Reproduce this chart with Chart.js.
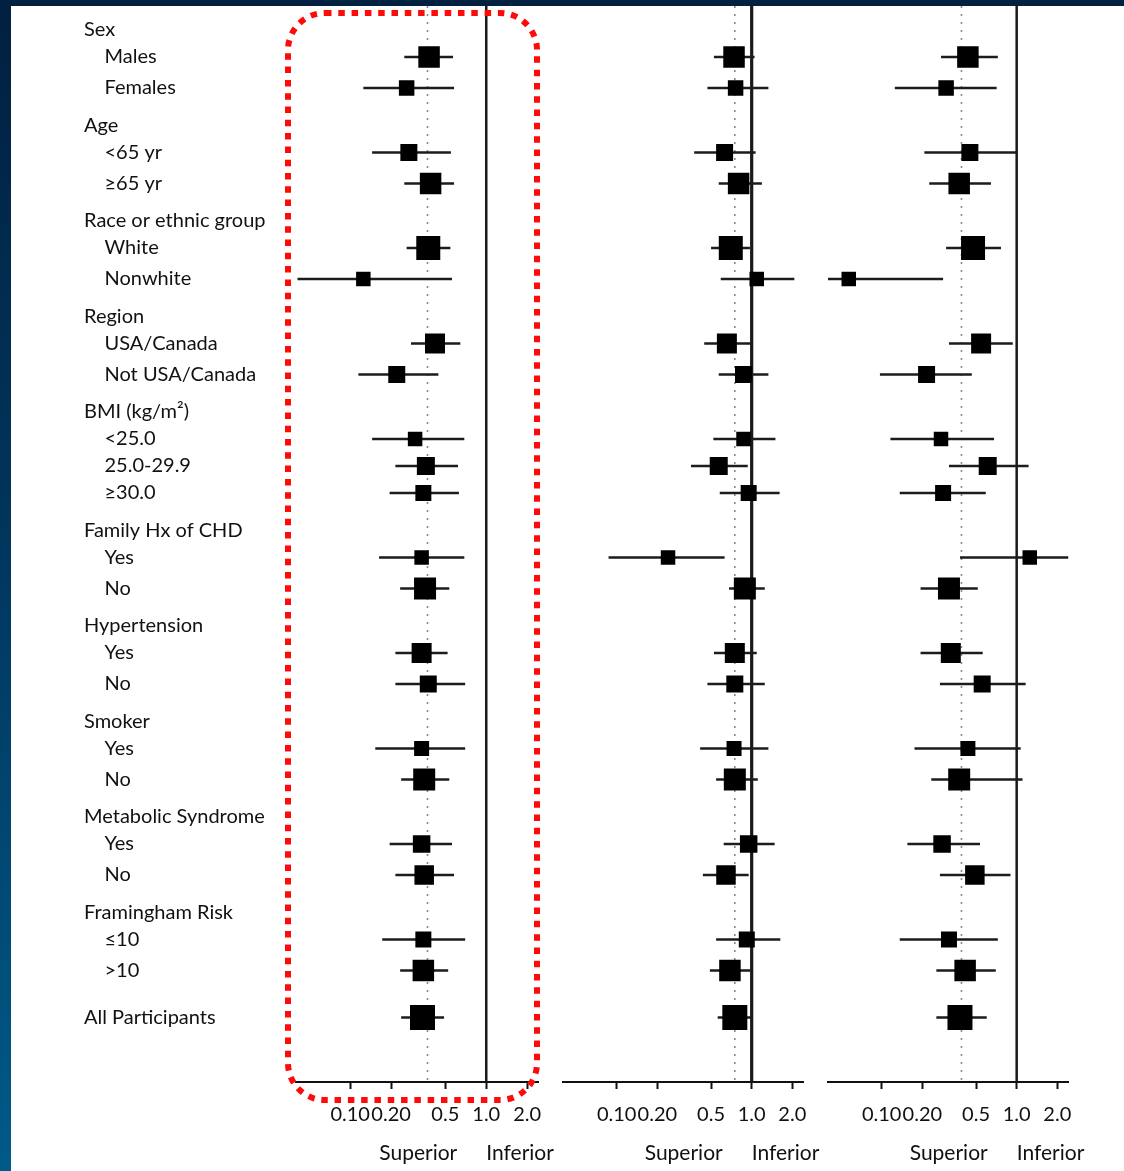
<!DOCTYPE html>
<html>
<head>
<meta charset="utf-8">
<script src="https://cdn.jsdelivr.net/npm/chart.js@4/dist/chart.umd.min.js"></script>
<style>
  html, body { margin: 0; padding: 0; }
  body {
    width: 1124px; height: 1171px; overflow: hidden; position: relative;
    background: linear-gradient(to bottom, #02203f 0%, #01355c 45%, #005a88 100%);
  }
  #sheet { position: absolute; left: 11px; top: 6px; right: 0; bottom: 0; background: #fff; }
  canvas { position: absolute; top: 6px; }
  #c1 { left: 11px; }
  #c2 { left: 548px; }
  #c3 { left: 813px; }
</style>
</head>
<body>
<div id="sheet"></div>
<canvas id="c1" width="545" height="1165"></canvas>
<canvas id="c2" width="300" height="1165"></canvas>
<canvas id="c3" width="311" height="1165"></canvas>
<script>
Chart.defaults.font.family = 'Lato, "Open Sans", sans-serif';
Chart.defaults.color = '#111';

// row labels
const groupNames = ['Sex', 'Age', 'Race or ethnic group', 'Region', 'BMI (kg/m\u00B2)',
  'Family Hx of CHD', 'Hypertension', 'Smoker', 'Metabolic Syndrome', 'Framingham Risk'];
const subgroupNames = [
  ['Males', 'Females'],
  ['<65 yr', '\u226565 yr'],
  ['White', 'Nonwhite'],
  ['USA/Canada', 'Not USA/Canada'],
  ['<25.0', '25.0-29.9', '\u226530.0'],
  ['Yes', 'No'],
  ['Yes', 'No'],
  ['Yes', 'No'],
  ['Yes', 'No'],
  ['\u226410', '>10']
];
const overallName = 'All Participants';

// hazard ratios and 95% CI, one value per subgroup row (same order), last = all participants
const hr1 = [0.38, 0.26, 0.27, 0.39, 0.375, 0.125, 0.42, 0.22, 0.30, 0.36, 0.345, 0.335, 0.355, 0.335, 0.375, 0.335, 0.35, 0.335, 0.35, 0.345, 0.345, 0.34];
const lo1 = [0.25, 0.125, 0.145, 0.25, 0.26, 0.041, 0.28, 0.115, 0.145, 0.215, 0.195, 0.163, 0.233, 0.215, 0.215, 0.153, 0.237, 0.195, 0.215, 0.172, 0.233, 0.237];
const hi1 = [0.57, 0.58, 0.55, 0.58, 0.545, 0.56, 0.645, 0.445, 0.69, 0.62, 0.63, 0.69, 0.535, 0.52, 0.70, 0.70, 0.535, 0.56, 0.58, 0.70, 0.525, 0.49];

const hr2 = [0.74, 0.76, 0.63, 0.80, 0.70, 1.09, 0.655, 0.87, 0.87, 0.57, 0.95, 0.24, 0.89, 0.75, 0.75, 0.74, 0.75, 0.95, 0.645, 0.92, 0.69, 0.75];
const lo2 = [0.525, 0.47, 0.375, 0.57, 0.50, 0.59, 0.445, 0.57, 0.52, 0.355, 0.58, 0.087, 0.68, 0.525, 0.47, 0.415, 0.545, 0.62, 0.435, 0.545, 0.49, 0.56];
const hi2 = [1.05, 1.33, 1.07, 1.19, 0.97, 2.07, 1.0, 1.33, 1.50, 0.935, 1.61, 0.63, 1.25, 1.09, 1.25, 1.33, 1.11, 1.48, 0.95, 1.63, 0.98, 1.0];

const hr3 = [0.435, 0.30, 0.45, 0.375, 0.475, 0.057, 0.545, 0.215, 0.275, 0.61, 0.285, 1.25, 0.315, 0.325, 0.555, 0.435, 0.375, 0.28, 0.49, 0.315, 0.415, 0.38];
const lo3 = [0.275, 0.125, 0.207, 0.225, 0.30, 0.040, 0.315, 0.097, 0.116, 0.315, 0.136, 0.38, 0.194, 0.194, 0.27, 0.175, 0.233, 0.155, 0.27, 0.136, 0.254, 0.254];
const hi3 = [0.725, 0.71, 1.0, 0.645, 0.765, 0.285, 0.935, 0.465, 0.68, 1.225, 0.59, 2.41, 0.515, 0.56, 1.165, 1.07, 1.105, 0.535, 0.90, 0.725, 0.70, 0.60];

// relative subgroup weight (box scale), all participants = 1
const weights = [0.86, 0.62, 0.68, 0.86, 0.96, 0.58, 0.80, 0.68, 0.58, 0.72, 0.64, 0.58, 0.88, 0.80, 0.68, 0.60, 0.88, 0.70, 0.78, 0.64, 0.86, 1.0];

// dotted reference line per panel
const refLines = [0.37, 0.75, 0.39];

const xTicks = [0.1, 0.2, 0.5, 1, 2];
const xTickLabels = ['0.10', '0.20', '0.5', '1.0', '2.0'];
const sideLabels = ['Superior', 'Inferior'];

// vertical row layout (axis units are px-like)
const HEAD_GAP = 27, ROW_GAP = 31, ROW_GAP3 = 27, GROUP_GAP = 37.5, OVERALL_GAP = 47;
const Y_MIN = -24, Y_MAX = 1052;

const rows = [];
let pos = 0, k = 0;
groupNames.forEach((g, gi) => {
  if (gi > 0) pos += GROUP_GAP;
  rows.push({ label: g, pos: pos, head: true });
  const subs = subgroupNames[gi];
  subs.forEach((s, si) => {
    pos += si === 0 ? HEAD_GAP : (subs.length > 2 ? ROW_GAP3 : ROW_GAP);
    rows.push({ label: s, pos: pos, head: false, idx: k++ });
  });
});
pos += OVERALL_GAP;
rows.push({ label: overallName, pos: pos, head: true, idx: k++ });
const dataRows = rows.filter(r => r.idx !== undefined);

const directionLabels = {
  id: 'directionLabels',
  afterDraw(chart) {
    const ctx = chart.ctx;
    const x1 = chart.scales.x.getPixelForValue(1);
    const y = chart.chartArea.bottom + 71;
    ctx.save();
    ctx.font = '21px Lato, "Open Sans", sans-serif';
    ctx.fillStyle = '#111';
    ctx.textBaseline = 'middle';
    ctx.textAlign = 'right';
    ctx.fillText(sideLabels[0], x1 - 29, y);
    ctx.textAlign = 'left';
    ctx.fillText(sideLabels[1], x1, y);
    ctx.restore();
  }
};

const redFrame = {
  id: 'redFrame',
  afterDraw(chart) {
    const ctx = chart.ctx;
    const a = chart.chartArea;
    ctx.save();
    ctx.strokeStyle = '#ff0a0a';
    ctx.lineWidth = 6;
    ctx.setLineDash([6.5, 6.8]);
    ctx.beginPath();
    ctx.roundRect(a.left - 8, a.top + 7, a.right - a.left + 7, a.bottom - a.top + 11, 37);
    ctx.stroke();
    ctx.restore();
  }
};

function makeConfig(hr, lo, hi, ref, withLabels, padding, oneWidth) {
  const boxes = dataRows.map(r => ({ x: hr[r.idx], y: r.pos }));
  const ci = [];
  dataRows.forEach(r => {
    ci.push({ x: lo[r.idx], y: r.pos });
    ci.push({ x: hi[r.idx], y: r.pos });
    ci.push({ x: hi[r.idx], y: null });
  });
  return {
    type: 'scatter',
    data: {
      datasets: [
        {
          data: boxes,
          pointStyle: 'rect',
          pointRadius: dataRows.map(r => weights[r.idx] * 25 / Math.SQRT2),
          backgroundColor: '#000',
          borderWidth: 0,
          clip: false
        },
        {
          data: ci,
          showLine: true,
          spanGaps: false,
          pointRadius: 0,
          borderColor: '#1c1c1c',
          borderWidth: 2.5,
          clip: false
        },
        {
          data: [{ x: 1, y: Y_MIN }, { x: 1, y: Y_MAX }],
          showLine: true,
          pointRadius: 0,
          borderColor: '#1a1a1a',
          borderWidth: oneWidth,
          clip: false
        },
        {
          data: [{ x: ref, y: Y_MIN }, { x: ref, y: Y_MAX }],
          showLine: true,
          pointRadius: 0,
          borderColor: '#8a8a8a',
          borderWidth: 1.6,
          borderDash: [2, 6],
          clip: false
        }
      ]
    },
    options: {
      responsive: false,
      animation: false,
      layout: { padding: padding, autoPadding: false },
      plugins: { legend: { display: false }, tooltip: { enabled: false } },
      scales: {
        x: {
          type: 'logarithmic',
          min: 0.04,
          max: 2.4,
          afterBuildTicks: s => { s.ticks = xTicks.map(v => ({ value: v })); },
          afterFit: s => { s.height = 89; s.paddingLeft = 0; s.paddingRight = 0; },
          ticks: {
            autoSkip: false,
            maxRotation: 0,
            padding: 14,
            color: '#111',
            font: { size: 20 },
            callback: (v, i) => xTickLabels[i]
          },
          grid: { display: true, drawOnChartArea: false, drawTicks: true, tickLength: 7, tickColor: '#111', tickWidth: 2 },
          border: { display: true, color: '#111', width: 2 }
        },
        y: {
          type: 'linear',
          reverse: true,
          min: Y_MIN,
          max: Y_MAX,
          display: withLabels,
          afterBuildTicks: s => { s.ticks = rows.map(r => ({ value: r.pos })); },
          afterFit: s => { s.width = withLabels ? 212 : 0; s.paddingTop = 0; s.paddingBottom = 0; },
          ticks: {
            autoSkip: false,
            crossAlign: 'far',
            color: '#111',
            font: { size: 20 },
            callback: (v, i) => (rows[i].head ? '' : '    ') + rows[i].label
          },
          grid: { display: false },
          border: { display: false }
        }
      }
    },
    plugins: withLabels ? [directionLabels, redFrame] : [directionLabels]
  };
}

const myChart1 = new Chart(document.getElementById('c1'),
  makeConfig(hr1, lo1, hi1, refLines[0], true, { left: 73, right: 18, top: 0, bottom: 0 }, 2.5));
const myChart2 = new Chart(document.getElementById('c2'),
  makeConfig(hr2, lo2, hi2, refLines[1], false, { left: 15, right: 45, top: 0, bottom: 0 }, 3.2));
const myChart3 = new Chart(document.getElementById('c3'),
  makeConfig(hr3, lo3, hi3, refLines[2], false, { left: 15, right: 56, top: 0, bottom: 0 }, 2.5));
</script>
</body>
</html>
